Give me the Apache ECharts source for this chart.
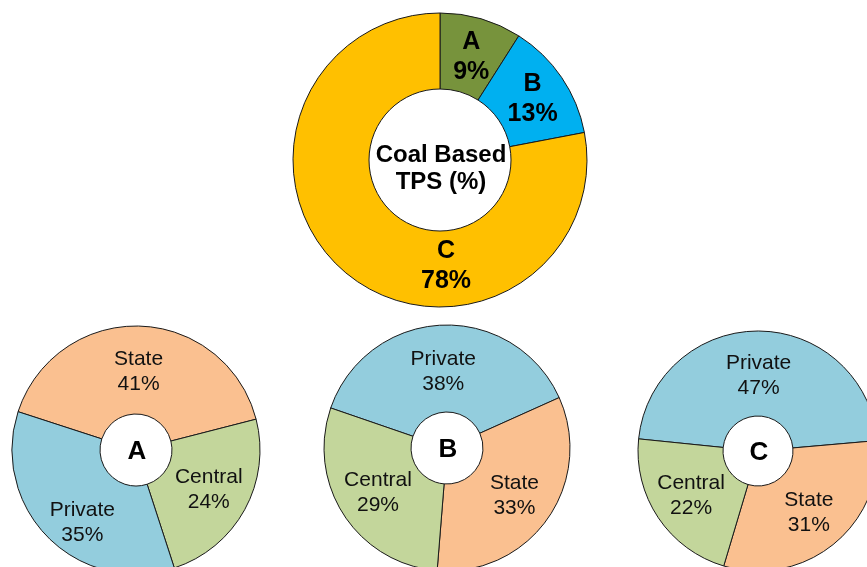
<!DOCTYPE html>
<html><head><meta charset="utf-8">
<script src="https://cdn.jsdelivr.net/npm/echarts@6/dist/echarts.min.js"></script>
<style>html,body{margin:0;padding:0;background:#fff}#c{width:867px;height:567px}</style>
</head><body><div id="c"></div>
<script>
// Data
const topCategories = ['A', 'B', 'C'];
const topValues = [9, 13, 78];
const centerTitle = 'Coal Based\nTPS (%)';

const pieACategories = ['State', 'Central', 'Private'];
const pieAValues = [41, 24, 35];
const pieBCategories = ['Private', 'State', 'Central'];
const pieBValues = [38, 33, 29];
const pieCCategories = ['Private', 'State', 'Central'];
const pieCValues = [47, 31, 22];

const topColors = {A: '#77933C', B: '#00B0F0', C: '#FFC000'};
const subColors = {State: '#FAC090', Central: '#C3D69B', Private: '#93CDDD'};

const chart = echarts.init(document.getElementById('c'), null, {renderer: 'canvas'});
const FONT = '"Liberation Sans", Arial, sans-serif';

const topCenter = [440, 160];
const topR = [71, 147];
const subs = [
  {name: 'A', cats: pieACategories, vals: pieAValues, center: [136, 450], r: [36, 124], start: 162,
   shifts: [[0, 5], [0, 0], [5, 14]]},
  {name: 'B', cats: pieBCategories, vals: pieBValues, center: [447, 448], r: [36, 123], start: 161,
   shifts: [[0, 6], [0, 0], [0, 0]]},
  {name: 'C', cats: pieCCategories, vals: pieCValues, center: [758, 451], r: [35, 120], start: 174.2,
   shifts: [[0, 5], [0, -1], [0, 0]]}
];

const series = [{
  type: 'pie',
  center: topCenter,
  radius: topR,
  startAngle: 90,
  clockwise: true,
  silent: true,
  animation: false,
  itemStyle: {borderColor: '#1a1a1a', borderWidth: 1},
  label: {
    position: 'inside', formatter: '{b}\n{c}%', color: '#000',
    fontFamily: FONT, fontWeight: 'bold', fontSize: 25, lineHeight: 30
  },
  labelLine: {show: false},
  labelLayout: function (p) {
    if (p.dataIndex === 2) {
      return {x: topCenter[0] + 6, y: topCenter[1] + 106, align: 'center', verticalAlign: 'middle'};
    }
    if (p.dataIndex === 0) return {dy: 5};
    if (p.dataIndex === 1) return {dy: 2};
    return {};
  },
  data: topCategories.map((n, i) => ({name: n, value: topValues[i], itemStyle: {color: topColors[n]}}))
}];

subs.forEach(s => {
  series.push({
    type: 'pie',
    center: s.center,
    radius: s.r,
    startAngle: s.start,
    clockwise: true,
    silent: true,
    animation: false,
    itemStyle: {borderColor: '#1a1a1a', borderWidth: 1},
    label: {
      position: 'inside', formatter: '{b}\n{c}%', color: '#111',
      fontFamily: FONT, fontSize: 21, lineHeight: 25
    },
    labelLine: {show: false},
    labelLayout: function (p) {
      const sh = s.shifts[p.dataIndex];
      return {dx: sh[0], dy: sh[1]};
    },
    data: s.cats.map((n, i) => ({name: n, value: s.vals[i], itemStyle: {color: subColors[n]}}))
  });
});

const graphic = [{
  type: 'text', x: topCenter[0] + 1, y: topCenter[1] + 9,
  style: {text: centerTitle, fill: '#000', font: 'bold 24px ' + FONT, align: 'center', verticalAlign: 'middle', lineHeight: 27}
}];
subs.forEach(s => {
  graphic.push({
    type: 'text', x: s.center[0] + 1, y: s.center[1] + 2,
    style: {text: s.name, fill: '#000', font: 'bold 26px ' + FONT, align: 'center', verticalAlign: 'middle'}
  });
});

chart.setOption({backgroundColor: '#fff', animation: false, series: series, graphic: graphic});
</script></body></html>
